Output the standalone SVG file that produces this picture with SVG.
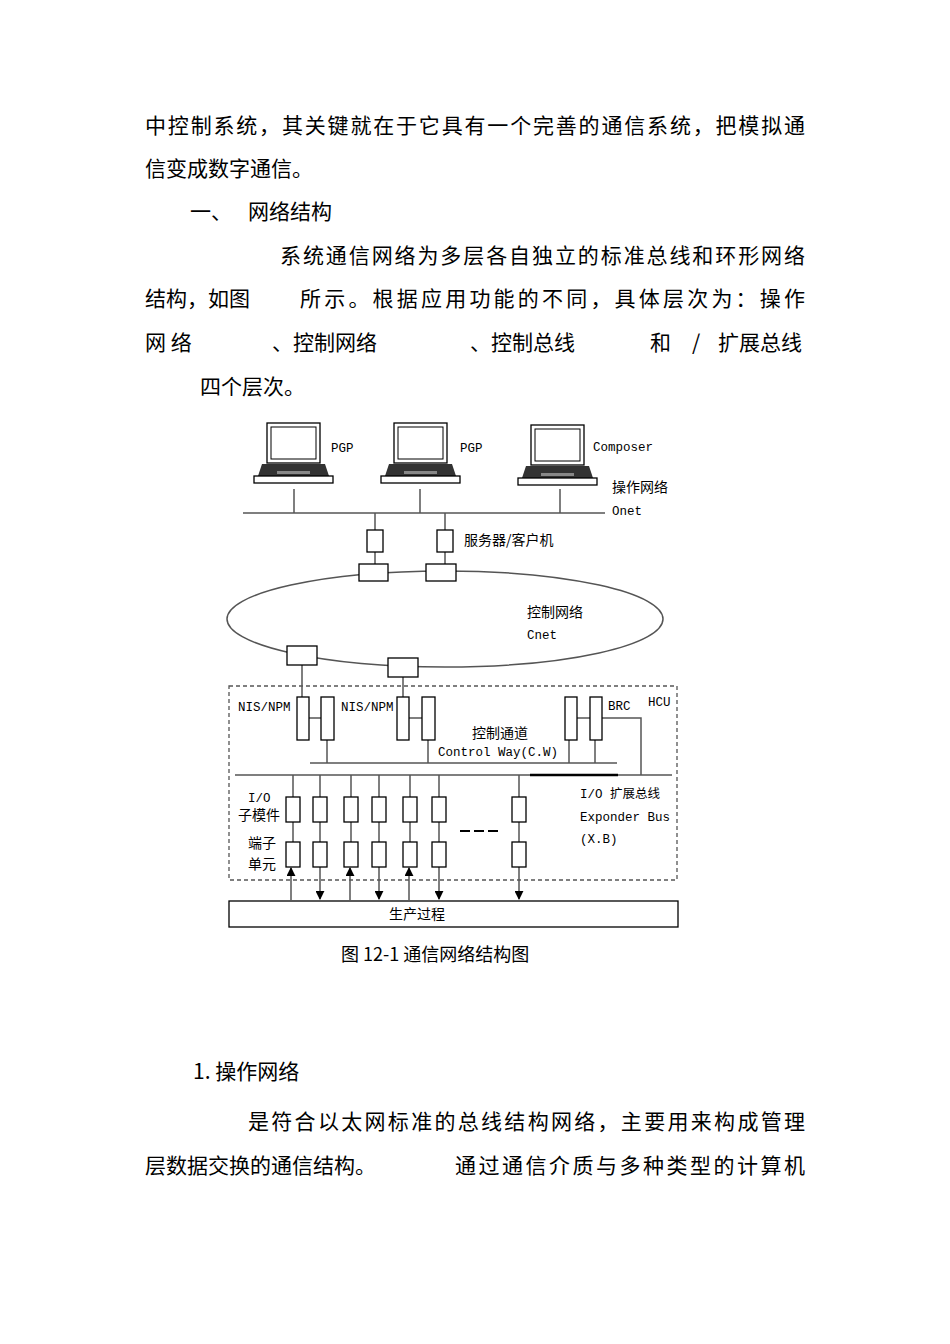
<svg xmlns="http://www.w3.org/2000/svg" width="950" height="1344" viewBox="0 0 950 1344">
<style>
.b{font-family:"Noto Sans CJK SC",sans-serif;font-size:21px;fill:#000}
.s{font-family:"Liberation Mono","Noto Sans CJK SC",monospace;font-size:12.5px;fill:#000}
.c{font-family:"Noto Sans CJK SC",sans-serif;font-size:14px;fill:#000}
.l{stroke:#555;stroke-width:1.5;fill:none}
.bx{stroke:#000;stroke-width:1.3;fill:#fff}
</style>
<defs>
<marker id="a" viewBox="0 0 10 10" refX="9" refY="5" markerWidth="6" markerHeight="6" orient="auto"><path d="M0,0L10,5L0,10z" fill="#000"/></marker>
<g id="lap">
<rect x="0" y="0" width="53" height="40" fill="#fff" stroke="#000" stroke-width="1.3"/>
<rect x="4" y="4" width="45" height="32" fill="#fff" stroke="#000" stroke-width="1"/>
<path d="M-5,41h63l4,12h-71z" fill="#333"/>
<rect x="-13" y="53" width="79" height="7" fill="#fff" stroke="#000" stroke-width="1.3"/>
<rect x="10" y="48" width="33" height="3" fill="#888"/>
</g>
</defs>
<rect width="950" height="1344" fill="#fff"/>
<g id="text">
<text class="b" x="145" y="133" textLength="660" lengthAdjust="spacing">中控制系统，其关键就在于它具有一个完善的通信系统，把模拟通</text>
<text class="b" x="145" y="176">信变成数字通信。</text>
<text class="b" x="190" y="219">一、</text><text class="b" x="248" y="219">网络结构</text>
<text class="b" x="280" y="263" textLength="525" lengthAdjust="spacing">系统通信网络为多层各自独立的标准总线和环形网络</text>
<text class="b" x="145" y="306">结构，如图</text>
<text class="b" x="300" y="306" textLength="505" lengthAdjust="spacing">所示。根据应用功能的不同，具体层次为：操作</text>
<text class="b" x="145" y="350">网 络</text><text class="b" x="272" y="350">、控制网络</text><text class="b" x="470" y="350">、控制总线</text><text class="b" x="650" y="350">和</text><text class="b" x="692" y="350">/</text><text class="b" x="718" y="350">扩展总线</text>
<text class="b" x="200" y="394">四个层次。</text>
<text class="b" x="193" y="1079">1. 操作网络</text>
<text class="b" x="248" y="1129" textLength="557" lengthAdjust="spacing">是符合以太网标准的总线结构网络，主要用来构成管理</text>
<text class="b" x="145" y="1173">层数据交换的通信结构。</text>
<text class="b" x="455" y="1173" textLength="350" lengthAdjust="spacing">通过通信介质与多种类型的计算机</text>
<text class="c" x="341" y="961" style="font-size:18px">图 12-1 通信网络结构图</text>
</g>
<g id="connectors">
<path class="l" d="M243,513H605M294,489V513M420,489V513M560,489V513M375,513V530M375,552V564M445,513V530M445,552V564"/>
<ellipse class="l" cx="445" cy="619" rx="218" ry="48"/>
<path class="l" d="M302,665V697M403,677V697"/>
<rect x="229" y="686" width="448" height="194" fill="none" stroke="#555" stroke-width="1.3" stroke-dasharray="4,3"/>
<path class="l" d="M309,718H321M409,718H422M577,718H590M602,718H641V775M327,740V763M428,740V763M569,740V763M595,740V763M310,763H617M235,775H672"/>
<path d="M530,775H618" stroke="#000" stroke-width="2.5"/>
<path class="l" d="M293,775V797M293,822V842M320,775V797M320,822V842M351,775V797M351,822V842M379,775V797M379,822V842M410,775V797M410,822V842M439,775V797M439,822V842M519,775V797M519,822V842"/>
<path d="M460,831h10M474,831h10M488,831h10" stroke="#000" stroke-width="2"/>
<g stroke="#555" stroke-width="1.5" marker-end="url(#a)">
<path d="M291,900V868"/><path d="M350,900V868"/><path d="M409,900V868"/>
<path d="M320,867V899"/><path d="M379,867V899"/><path d="M439,867V899"/><path d="M519,867V899"/>
</g>
</g>
<g id="pc1"><use href="#lap" x="267" y="423"/><text class="s" x="331" y="452">PGP</text></g>
<g id="pc2"><use href="#lap" x="394" y="423"/><text class="s" x="460" y="452">PGP</text></g>
<g id="pc3"><use href="#lap" x="531" y="425"/><text class="s" x="593" y="451">Composer</text></g>
<g id="onet"><text class="c" x="612" y="492">操作网络</text><text class="s" x="612" y="515">Onet</text></g>
<g id="server"><rect class="bx" x="367" y="530" width="16" height="22"/><rect class="bx" x="437" y="530" width="16" height="22"/><text class="c" x="464" y="545">服务器/客户机</text></g>
<g id="cnet">
<rect class="bx" x="359" y="564" width="29" height="17"/><rect class="bx" x="426" y="564" width="30" height="17"/>
<rect class="bx" x="287" y="646" width="30" height="19"/><rect class="bx" x="388" y="658" width="30" height="19"/>
<text class="c" x="527" y="617">控制网络</text><text class="s" x="527" y="639">Cnet</text>
</g>
<g id="hcu">
<rect class="bx" x="297" y="697" width="12" height="43"/><rect class="bx" x="321" y="697" width="13" height="43"/>
<rect class="bx" x="397" y="697" width="12" height="43"/><rect class="bx" x="422" y="697" width="13" height="43"/>
<rect class="bx" x="565" y="697" width="12" height="43"/><rect class="bx" x="590" y="697" width="12" height="43"/>
<text class="s" x="238" y="711">NIS/NPM</text><text class="s" x="341" y="711">NIS/NPM</text>
<text class="s" x="608" y="710">BRC</text><text class="s" x="648" y="706">HCU</text>
<text class="c" x="472" y="738">控制通道</text><text class="s" x="438" y="756">Control Way(C.W)</text>
</g>
<g id="io">
<rect class="bx" x="286" y="797" width="14" height="25"/><rect class="bx" x="313" y="797" width="14" height="25"/><rect class="bx" x="344" y="797" width="14" height="25"/><rect class="bx" x="372" y="797" width="14" height="25"/><rect class="bx" x="403" y="797" width="14" height="25"/><rect class="bx" x="432" y="797" width="14" height="25"/><rect class="bx" x="512" y="797" width="14" height="25"/>
<rect class="bx" x="286" y="842" width="14" height="25"/><rect class="bx" x="313" y="842" width="14" height="25"/><rect class="bx" x="344" y="842" width="14" height="25"/><rect class="bx" x="372" y="842" width="14" height="25"/><rect class="bx" x="403" y="842" width="14" height="25"/><rect class="bx" x="432" y="842" width="14" height="25"/><rect class="bx" x="512" y="842" width="14" height="25"/>
<text class="s" x="248" y="802">I/O</text><text class="c" x="238" y="820">子模件</text>
<text class="c" x="248" y="848">端子</text><text class="c" x="248" y="869">单元</text>
<text class="s" x="580" y="798">I/O 扩展总线</text><text class="s" x="580" y="821">Exponder Bus</text><text class="s" x="580" y="843">(X.B)</text>
</g>
<g id="process"><rect class="bx" x="229" y="901" width="449" height="26"/><text class="c" x="417" y="919" text-anchor="middle">生产过程</text></g>
</svg>
